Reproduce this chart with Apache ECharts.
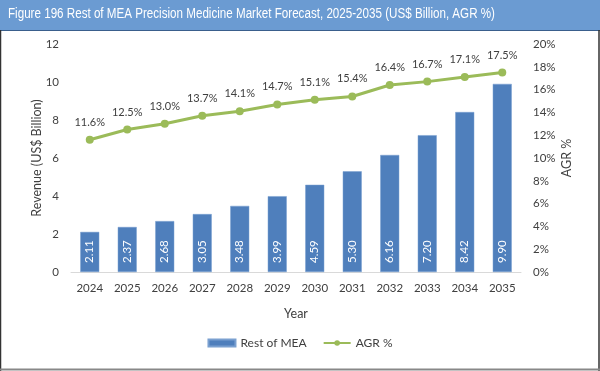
<!DOCTYPE html>
<html><head><meta charset="utf-8">
<script src="https://cdn.jsdelivr.net/npm/echarts@6/dist/echarts.min.js"></script>
<style>html,body{margin:0;padding:0;background:#fff}#c{width:600px;height:371px}</style>
</head><body><div id="c"></div>
<script>
const years = ['2024','2025','2026','2027','2028','2029','2030','2031','2032','2033','2034','2035'];
const revenue = [2.11,2.37,2.68,3.05,3.48,3.99,4.59,5.30,6.16,7.20,8.42,9.90];
const agr = [11.6,12.5,13.0,13.7,14.1,14.7,15.1,15.4,16.4,16.7,17.1,17.5];
const titleText = 'Figure 196 Rest of MEA Precision Medicine Market Forecast, 2025-2035 (US$ Billion, AGR %)';

const chart = echarts.init(document.getElementById('c'));
const font = 'Lato, "Open Sans", sans-serif';
chart.setOption({
  animation:false,
  backgroundColor:'#fff',
  graphic:[
    {type:'rect',shape:{x:0,y:0,width:600,height:30},style:{fill:'#6b9bd2'},z:0},
    {type:'line',shape:{x1:0,y1:30.5,x2:600,y2:30.5},style:{stroke:'#3a5f8c',lineWidth:1}},
    {type:'text',x:8,y:7,scaleX:0.83,style:{text:titleText,fill:'#fff',font:'14px "Liberation Sans", Arial, sans-serif'}},
    {type:'line',shape:{x1:0.5,y1:30,x2:0.5,y2:371},style:{stroke:'#333',lineWidth:1.5}},
    {type:'line',shape:{x1:599,y1:30,x2:599,y2:371},style:{stroke:'#333',lineWidth:1.5}},
    {type:'line',shape:{x1:0,y1:369.5,x2:600,y2:369.5},style:{stroke:'#888',lineWidth:2}}
  ],
  grid:{left:71,right:79,top:44,bottom:99},
  legend:{
    bottom:17,left:'center',itemGap:16,itemWidth:27,itemHeight:7,
    textStyle:{color:'#404040',fontSize:12,fontFamily:font},
    data:[{name:'Rest of MEA',icon:'rect'},{name:'AGR %'}]
  },
  xAxis:{
    type:'category',data:years,
    name:'Year',nameLocation:'middle',nameGap:35,nameMoveOverlap:false,
    nameTextStyle:{color:'#404040',fontSize:12.5,fontFamily:font},
    axisLine:{lineStyle:{color:'#d9d9d9'}},axisTick:{show:false},
    axisLabel:{color:'#404040',fontSize:11.5,fontFamily:font,margin:10}
  },
  yAxis:[
    {type:'value',min:0,max:12,interval:2,
     name:'Revenue (US$ Billion)',nameLocation:'middle',nameGap:28,nameMoveOverlap:false,
     nameTextStyle:{color:'#404040',fontSize:12.5,fontFamily:font},
     splitLine:{show:false},axisLine:{show:false},axisTick:{show:false},
     axisLabel:{color:'#404040',fontSize:11.5,fontFamily:font,margin:12}},
    {type:'value',min:0,max:20,interval:2,
     name:'AGR %',nameLocation:'middle',nameGap:39,nameMoveOverlap:false,
     nameTextStyle:{color:'#404040',fontSize:12.5,fontFamily:font},
     splitLine:{show:false},axisLine:{show:false},axisTick:{show:false},
     axisLabel:{color:'#404040',fontSize:11.5,fontFamily:font,margin:12,formatter:'{value}%'}}
  ],
  series:[
    {name:'Rest of MEA',type:'bar',data:revenue,barWidth:19,yAxisIndex:0,
     itemStyle:{color:'#4f7fbc',borderColor:'#7aa0d0',borderWidth:0.5},
     label:{show:true,position:'insideBottom',rotate:90,align:'left',verticalAlign:'middle',distance:9,
       color:'#fff',fontSize:11.5,fontFamily:font,formatter:p=>p.value.toFixed(2)}},
    {name:'AGR %',type:'line',data:agr,yAxisIndex:1,symbol:'circle',symbolSize:8,
     lineStyle:{color:'#9bbb59',width:3},itemStyle:{color:'#9bbb59'},
     label:{show:true,position:'top',distance:8,color:'#404040',fontSize:11,fontFamily:font,
       formatter:p=>p.value.toFixed(1)+'%'}}
  ]
});
</script></body></html>
